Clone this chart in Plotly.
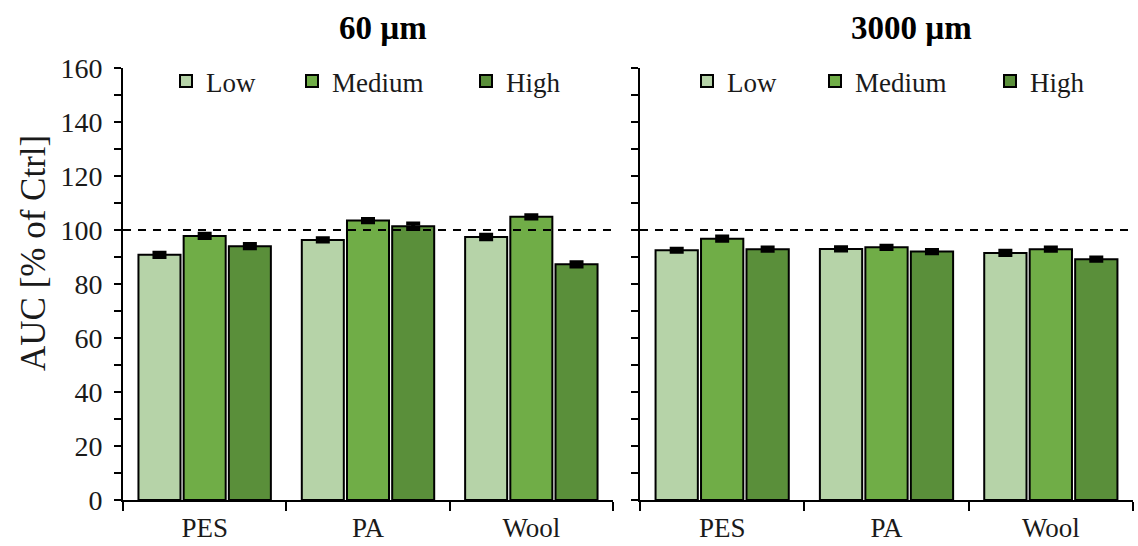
import plotly.graph_objects as go

categories = ["PES", "PA", "Wool"]
levels = ["Low", "Medium", "High"]
colors = ["#B6D3A8", "#70AD47", "#5A8F3A"]

vals_60 = {
    "Low": [90.8, 96.3, 97.4],
    "Medium": [97.8, 103.5, 104.9],
    "High": [94.0, 101.4, 87.3],
}
err_60 = {
    "Low": [0.8, 0.6, 0.8],
    "Medium": [0.8, 0.6, 0.6],
    "High": [0.8, 1.0, 0.8],
}
vals_3000 = {
    "Low": [92.5, 93.0, 91.5],
    "Medium": [96.8, 93.6, 92.9],
    "High": [92.9, 92.0, 89.2],
}
err_3000 = {
    "Low": [0.6, 0.6, 0.8],
    "Medium": [0.8, 0.6, 0.6],
    "High": [0.6, 0.6, 0.6],
}
titles = ["60 µm", "3000 µm"]
y_title = "AUC [% of Ctrl]"
y_range = [0, 160]

FONT = "Liberation Serif, Times New Roman, serif"
TXT = "#1a1a1a"

L, R, T, B = 123, 5, 68, 46
W, H = 1138, 546
pw = W - L - R
ph = H - T - B
d1 = [0, (613 - L) / pw]
d2 = [(640 - L) / pw, 1]

# legend anchor pixels for each entry (left edge of legend item)
leg_px = [[166, 292, 466], [687, 815, 990]]

fig = go.Figure()
legend_defs = {}
k = 0
for p, (vals, errs) in enumerate(((vals_60, err_60), (vals_3000, err_3000))):
    for i, lev in enumerate(levels):
        k += 1
        lname = "legend" if k == 1 else f"legend{k}"
        fig.add_trace(go.Bar(
            x=categories, y=vals[lev], name=lev,
            marker=dict(color=colors[i], line=dict(color="black", width=2)),
            error_y=dict(type="data", array=errs[lev], color="black", thickness=4, width=7),
            xaxis="x" if p == 0 else "x2", yaxis="y" if p == 0 else "y2",
            legend=lname,
        ))
        legend_defs[lname] = dict(
            orientation="h", x=(leg_px[p][i] - L) / pw, xanchor="left",
            y=1.0 + 11 / ph, yanchor="top",
            font=dict(family=FONT, size=27, color=TXT), bgcolor="rgba(0,0,0,0)",
        )

xax = dict(type="category", showline=True, linecolor="black", linewidth=2,
           ticks="outside", tickson="boundaries", ticklen=9, tickwidth=2, tickcolor="black",
           ticklabelstandoff=3, automargin=False,
           tickfont=dict(family=FONT, size=27, color=TXT), showgrid=False, zeroline=False)
yax = dict(range=y_range, dtick=20, showline=True, linecolor="black", linewidth=2,
           ticks="outside", ticklen=7, tickwidth=2, tickcolor="black",
           ticklabelstandoff=6, automargin=False,
           minor=dict(dtick=10, ticks="outside", ticklen=7, tickwidth=2, tickcolor="black"),
           tickfont=dict(family=FONT, size=28, color=TXT), showgrid=False, zeroline=False)

fig.update_layout(
    width=W, height=H,
    margin=dict(l=L, r=R, t=T, b=B, pad=0, autoexpand=False),
    paper_bgcolor="white", plot_bgcolor="white",
    barmode="group", bargap=0.17, bargroupgap=0.07,
    xaxis=dict(xax, domain=d1, anchor="y"),
    xaxis2=dict(xax, domain=d2, anchor="y2"),
    yaxis=dict(yax, anchor="x"),
    yaxis2=dict(yax, anchor="x2", showticklabels=False),
    font=dict(family=FONT, color=TXT),
    showlegend=True,
    **legend_defs,
)

for xr, yr in (("x", "y"), ("x2", "y2")):
    fig.add_shape(type="line", xref=f"{xr} domain", x0=0, x1=1, yref=yr, y0=100, y1=100,
                  line=dict(color="black", width=2, dash="8px,7px"), layer="above")

fig.add_annotation(text=f"<b>{titles[0]}</b>", xref="paper", yref="paper",
                   x=(383 - L) / pw, y=1 + (T - 28) / ph, xanchor="center", yanchor="middle",
                   showarrow=False, font=dict(family=FONT, size=33, color="black"))
fig.add_annotation(text=f"<b>{titles[1]}</b>", xref="paper", yref="paper",
                   x=(911 - L) / pw, y=1 + (T - 28) / ph, xanchor="center", yanchor="middle",
                   showarrow=False, font=dict(family=FONT, size=33, color="black"))
fig.add_annotation(text=y_title, xref="paper", yref="paper",
                   x=(34 - L) / pw, y=(H - B - 253) / ph, xanchor="center", yanchor="middle",
                   textangle=-90, showarrow=False, font=dict(family=FONT, size=35, color=TXT))

fig.write_html("out.html")
